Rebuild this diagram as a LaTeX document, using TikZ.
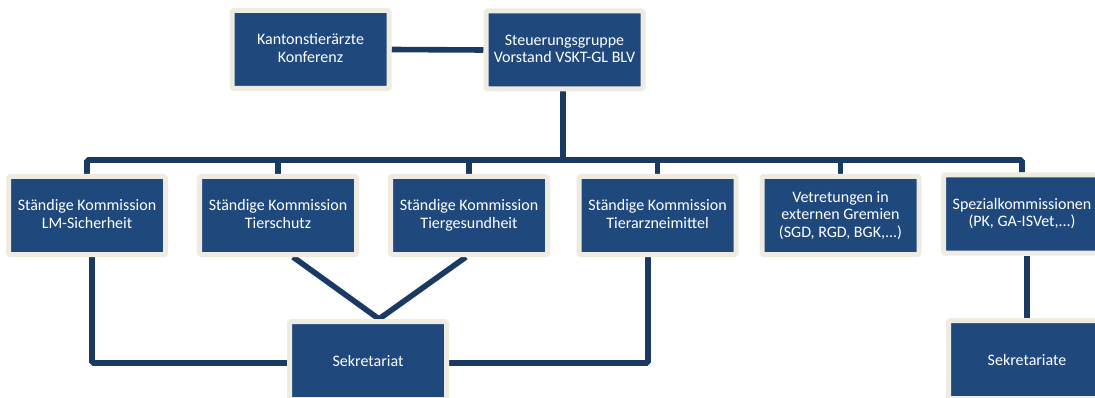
\documentclass[tikz,border=0pt]{standalone}
\usepackage{fontspec}
\setmainfont{Carlito}
\usetikzlibrary{backgrounds}
\definecolor{boxblue}{HTML}{1F497D}
\definecolor{ringc}{HTML}{EEECE1}
\definecolor{linec}{HTML}{1B3A63}
\tikzset{
  orgbox/.style={draw=ringc, line width=5pt, fill=boxblue, text=white, align=center,
    inner sep=0pt, minimum width=157pt, minimum height=78pt, rounded corners=1.5pt,
    font=\fontsize{16}{17.5}\selectfont,
    execute at begin node={\rule{0pt}{15.5pt}},
    execute at end node={\vphantom{g}}},
  conn/.style={draw=linec, line width=5.6pt, rounded corners=1.5pt}
}
\begin{document}
\begin{tikzpicture}[x=1pt,y=-1pt]
\useasboundingbox (0,0) rectangle (1095,398);
\clip (0,0) rectangle (1095,398);
\node[orgbox] (kant) at (310.5,49.5) {Kantonstierärzte\\Konferenz};
\node[orgbox] (steu) at (564.5,50) {Steuerungsgruppe\\Vorstand VSKT-GL BLV};
\node[orgbox] (b1) at (87,215.5) {Ständige Kommission\\LM-Sicherheit};
\node[orgbox] (b2) at (278,215.5) {Ständige Kommission\\Tierschutz};
\node[orgbox] (b3) at (469,215.5) {Ständige Kommission\\Tiergesundheit};
\node[orgbox] (b4) at (657.5,215.5) {Ständige Kommission\\Tierarzneimittel};
\node[orgbox] (b5) at (840.5,215.5) {Vetretungen in\\externen Gremien\\(SGD, RGD, BGK,...)};
\node[orgbox] (b6) at (1022,214) {Spezialkommissionen\\(PK, GA-ISVet,...)};
\node[orgbox] (sek) at (368,360.5) {Sekretariat};
\node[orgbox] (sek2) at (1027,359.5) {Sekretariate};
\coordinate (bary) at (0,160);
\coordinate (lowy) at (0,363);
\coordinate (apex) at (379,319);
\begin{scope}[on background layer]
\draw[conn] (kant.east) -- (steu.west);
\draw[conn] (b1.north) |- (b6.north |- bary) -- (b6.north);
\draw[conn] (steu.south -| 563,0) -- (563,160);
\draw[conn] (b2.north) -- (b2.north |- bary);
\draw[conn] (b3.north) -- (b3.north |- bary);
\draw[conn] (b4.north) -- (b4.north |- bary);
\draw[conn] (b5.north) -- (b5.north |- bary);
\draw[conn] ([xshift=5pt]b1.south) |- (sek.west |- lowy);
\draw[conn] ([xshift=-9.5pt]b4.south) |- (sek.east |- lowy);
\draw[conn, rounded corners=0pt, line join=miter] ([xshift=15pt]b2.south) -- (apex) -- ([xshift=-3pt]b3.south);
\draw[conn] (sek2.north |- b6.south) -- (sek2.north);
\end{scope}
\end{tikzpicture}
\end{document}
